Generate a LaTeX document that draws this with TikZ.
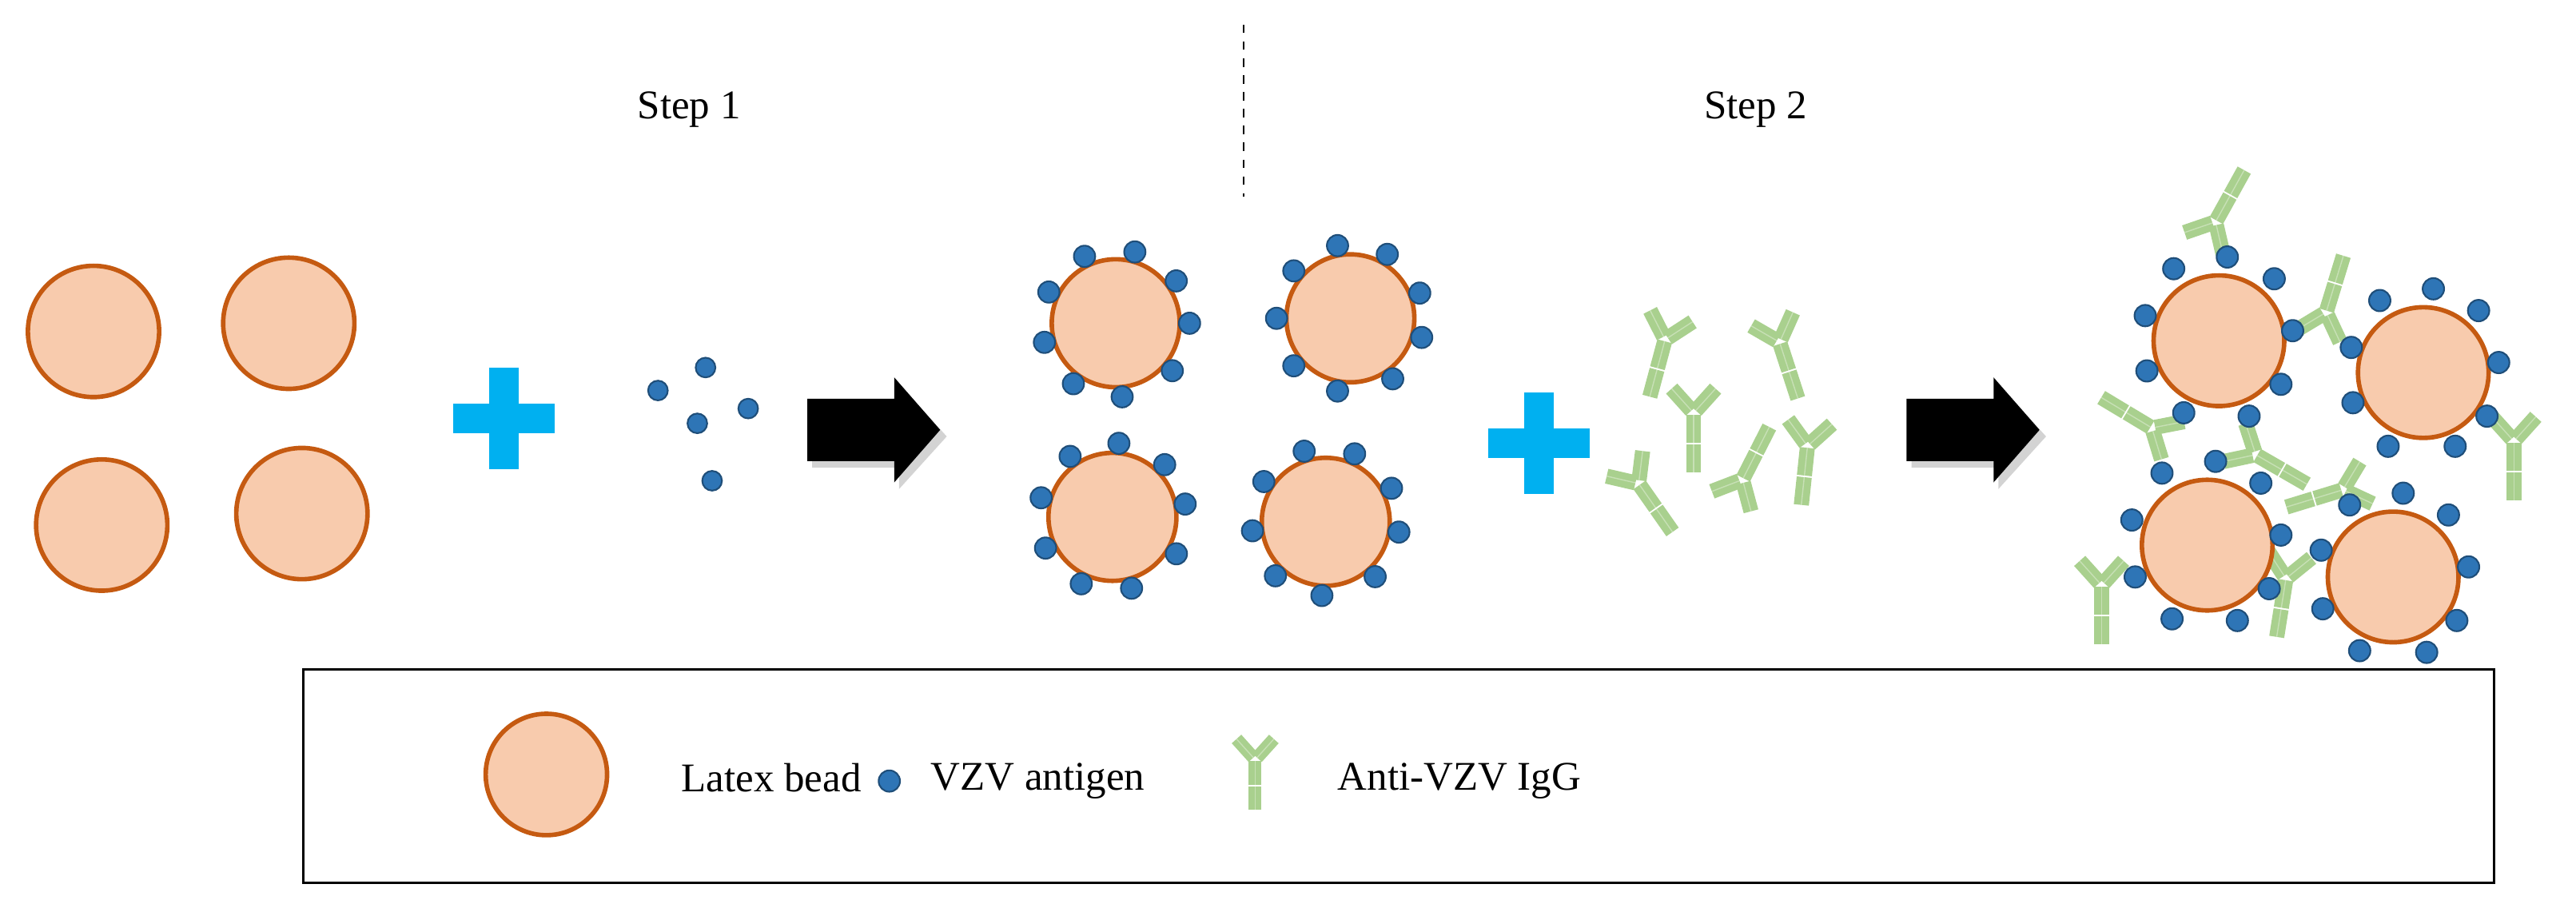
\documentclass[tikz,border=0pt]{standalone}
\usepackage{fontspec}
\setmainfont{Liberation Serif}
\usetikzlibrary{calc}
\begin{document}
\begin{tikzpicture}[x=0.02053cm,y=-0.02053cm,
  bead/.style={fill=beadf,draw=beadd,line width=1.6pt},
  ag/.style={fill=agf,draw=agd,line width=0.6pt},
  seg/.style={fill=abg},
  lbl/.style={font=\fontsize{14.5}{17}\selectfont,inner sep=0pt},
  ab/.pic={
    \fill[seg] (-4.6,1) rectangle (4.6,18);
    \fill[seg] (-4.6,19) rectangle (4.6,36);
    \draw[white,opacity=0.35,line width=0.4pt] (0,1)--(0,36);
    \foreach \r in {138,-138}{
      \begin{scope}[rotate=\r]
        \fill[seg] (-4.6,2) rectangle (4.6,20);
        \draw[white,opacity=0.35,line width=0.4pt] (0,2)--(0,20);
      \end{scope}}
  }]
\definecolor{beadf}{HTML}{F8CBAD}
\definecolor{beadd}{HTML}{C55A11}
\definecolor{agf}{HTML}{2E75B6}
\definecolor{agd}{HTML}{1F4E79}
\definecolor{abg}{HTML}{A9D08E}
\definecolor{plusc}{HTML}{00B0F0}
\useasboundingbox (0,0) rectangle (1570,553);

% titles
\node[lbl] (s1) at (420,67) {Step 1};
\node[lbl] (s2) at (1070,67) {Step 2};
\draw[dashed,line width=0.5pt] (758,15) -- (758,120);

% step 1 beads
\foreach \x/\y in {57/202,176/197,62/320,184/313}
  \draw[bead] (\x,\y) circle (40);
% plus signs
\foreach \x/\y in {307/255,938/270}{
  \fill[plusc] (\x-9,\y-31) rectangle (\x+9,\y+31);
  \fill[plusc] (\x-31,\y-9) rectangle (\x+31,\y+9);}
% free antigens
\foreach \x/\y in {401/238,430/224,425/258,456/249,434/293}
  \draw[ag] (\x,\y) circle (6);
% arrows
\foreach \x in {492,1162}{
  \fill[gray,opacity=0.35] (\x+3,247)--(\x+56,247)--(\x+56,234)--(\x+85,266)--(\x+56,298)--(\x+56,285)--(\x+3,285)--cycle;
  \fill[black] (\x,243)--(\x+53,243)--(\x+53,230)--(\x+81,262)--(\x+53,294)--(\x+53,281)--(\x,281)--cycle;}

% coated beads
\foreach \x/\y/\o in {680/197/0,823/194/15,678/315/-10,808/318/8}{
  \draw[bead] (\x,\y) circle (39);
  \foreach \a in {0,40,85,125,165,205,245,285,325}
    \draw[ag] ($(\x,\y)+(\a+\o:45)$) circle (6.5);}

% free antibodies
\pic[rotate=-15] at (1014.8,207) {ab};
\pic[rotate=18] at (1084.6,208.6) {ab};
\pic at (1032.2,251.7) {ab};
\pic[rotate=-6] at (1101.6,271.9) {ab};
\pic[rotate=35] at (998.7,294.7) {ab};
\pic[rotate=153] at (1062,292.3) {ab};

% cluster antibodies (behind)
\pic[rotate=151] at (1350.3,135.2) {ab};
\pic[rotate=163] at (1417.7,190.3) {ab};
\pic[rotate=239] at (1311.5,260.8) {ab};
\pic[rotate=60] at (1374.8,277.1) {ab};
\pic[rotate=-73] at (1427.9,298.5) {ab};
\pic at (1532.1,268.9) {ab};
\pic at (1280.9,356.7) {ab};
\pic[rotate=-9] at (1393.2,352.6) {ab};

% cluster beads and antigens
\begin{scope}[shift={(1242.1,97.4)},scale=0.2042]
\foreach \x/\y in {540/540,1150/635,505/1150,1060/1245}
  \draw[bead] (\x,\y) circle (195);
\foreach \x/\y in {405/325,565/290,705/355,320/465,760/510,325/630,725/670,435/755,630/765,
  1020/420,1180/385,1315/450,935/560,1375/605,940/725,1340/765,1045/855,1245/855,
  370/935,530/900,665/965,280/1075,725/1120,290/1245,690/1280,400/1370,595/1375,
  930/1030,1090/995,1225/1060,845/1165,1285/1215,850/1340,1250/1375,960/1465,1160/1470}
  \draw[ag] (\x,\y) circle (32);
\end{scope}

% legend
\draw[line width=0.8pt] (185,408) rectangle (1520,538);
\draw[bead] (333,472) circle (37);
\node[lbl,anchor=west] (t1) at (415,474) {Latex bead};
\draw[ag] (542,476) circle (6.5);
\node[lbl,anchor=west] (t2) at (567,476) {VZV antigen};
\pic[scale=0.85] at (765,463) {ab};
\node[lbl,anchor=west] (t3) at (815,476) {Anti-VZV IgG};
\end{tikzpicture}
\end{document}
